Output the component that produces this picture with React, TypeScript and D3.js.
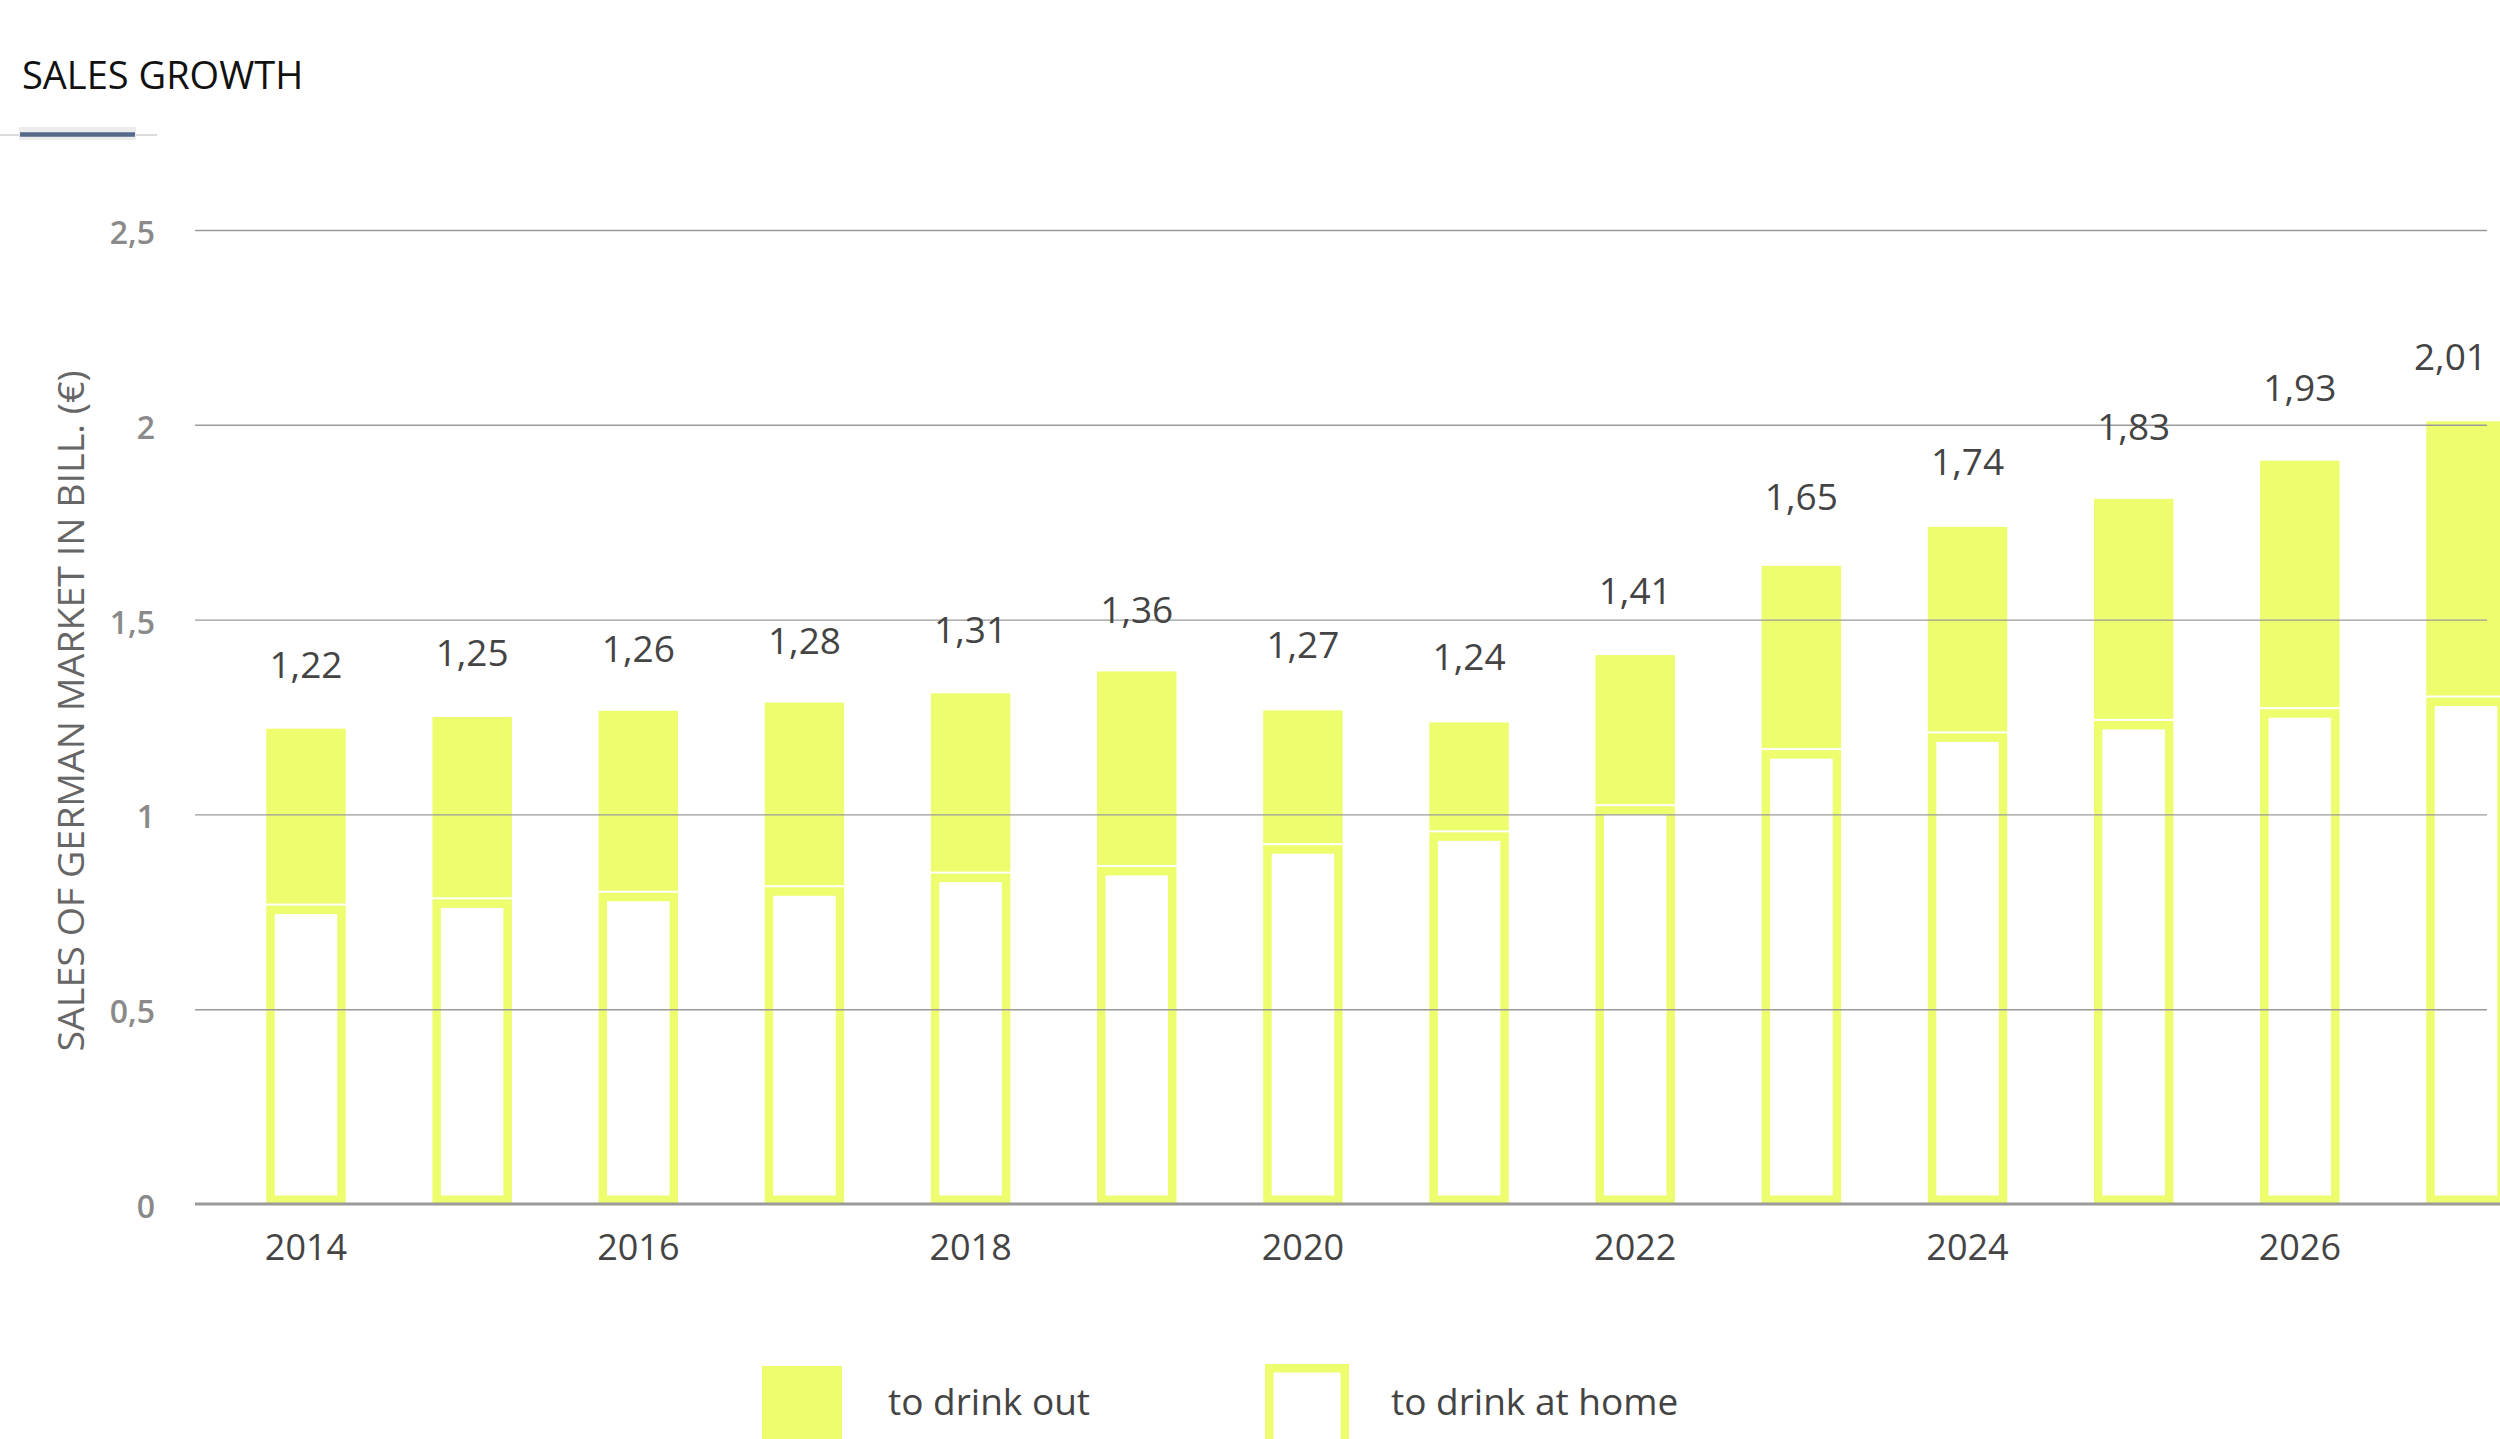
import { useEffect, useRef } from "react";
import {
  select,
  scaleBand,
  scaleLinear,
  axisLeft,
  axisBottom,
  formatLocale,
} from "d3";

// Data
const years = [
  2014, 2015, 2016, 2017, 2018, 2019, 2020, 2021, 2022, 2023, 2024, 2025, 2026,
  2027,
];
const totalLabels = [
  1.22, 1.25, 1.26, 1.28, 1.31, 1.36, 1.27, 1.24, 1.41, 1.65, 1.74, 1.83, 1.93,
  2.01,
];
const drinkAtHome = [
  0.766, 0.782, 0.799, 0.813, 0.848, 0.865, 0.921, 0.954, 1.021, 1.165, 1.208,
  1.24, 1.27, 1.3,
];
const drinkOut = [
  0.454, 0.468, 0.467, 0.474, 0.463, 0.502, 0.346, 0.282, 0.388, 0.473, 0.53,
  0.57, 0.638, 0.709,
];
const yTicks = [0, 0.5, 1, 1.5, 2, 2.5];
const xTickYears = [2014, 2016, 2018, 2020, 2022, 2024, 2026];
const legendLabels = ["to drink out", "to drink at home"];

const W = 2500;
const H = 1439;
const FONT = "'Open Sans', 'Noto Sans', sans-serif";
const YELLOW = "#eefd6e";
const GRID = "#9a9a9a";
const GRID_END = 2487;

const de = formatLocale({
  decimal: ",",
  thousands: ".",
  grouping: [3],
  currency: ["", " €"],
});

export default function App() {
  const svgRef = useRef<SVGSVGElement | null>(null);

  useEffect(() => {
    const svg = select(svgRef.current);

    // Scales
    const x = scaleBand<number>()
      .domain(years)
      .range([195, 2577])
      .paddingInner(0.5215)
      .paddingOuter(0.4288);
    const y = scaleLinear().domain([0, 2.5]).range([1204, 230]);
    const bw = x.bandwidth();
    const sw = 8.5; // outline width of the "at home" bars

    const rows = years.map((year, i) => ({
      year,
      home: drinkAtHome[i],
      out: drinkOut[i],
      label: totalLabels[i],
    }));

    // Outlined bars (to drink at home)
    svg
      .select(".bars-home")
      .selectAll("rect")
      .data(rows)
      .join("rect")
      .attr("x", (d) => x(d.year)! + sw / 2)
      .attr("y", (d) => y(d.home) + sw / 2)
      .attr("width", bw - sw)
      .attr("height", (d) => y(0) - y(d.home) - sw)
      .attr("fill", "#fff")
      .attr("stroke", YELLOW)
      .attr("stroke-width", sw);

    // Filled bars stacked on top (to drink out)
    svg
      .select(".bars-out")
      .selectAll("rect")
      .data(rows)
      .join("rect")
      .attr("x", (d) => x(d.year)!)
      .attr("y", (d) => y(d.home + d.out))
      .attr("width", bw)
      .attr("height", (d) => y(d.home) - y(d.home + d.out) - 2)
      .attr("fill", YELLOW);

    // Gridlines
    const grid = svg
      .select<SVGGElement>(".grid")
      .attr("transform", "translate(195,0)")
      .call(
        axisLeft(y)
          .tickValues(yTicks.filter((v) => v > 0))
          .tickSize(-(GRID_END - 195))
          .tickFormat(() => "")
      );
    grid.select(".domain").remove();
    grid.selectAll("line").attr("stroke", GRID).attr("stroke-width", 1.4);

    // Baseline
    svg
      .select(".baseline")
      .attr("x1", 195)
      .attr("x2", W)
      .attr("y1", y(0))
      .attr("y2", y(0))
      .attr("stroke", GRID)
      .attr("stroke-width", 3);

    // Y axis labels
    const fmtTick = de.format("~g");
    const yAxis = svg
      .select<SVGGElement>(".y-axis")
      .attr("transform", "translate(195,0)")
      .call(
        axisLeft(y)
          .tickValues(yTicks)
          .tickSize(0)
          .tickPadding(40)
          .tickFormat((d) => fmtTick(d as number))
      );
    yAxis.select(".domain").remove();
    yAxis
      .attr("font-family", FONT)
      .attr("font-size", 32)
      .selectAll("text")
      .attr("fill", "#8a8a8a")
      .attr("font-weight", 600)
      .attr("dy", "0.42em");

    // X axis labels
    const xAxis = svg
      .select<SVGGElement>(".x-axis")
      .attr("transform", `translate(0,${y(0)})`)
      .call(axisBottom(x).tickValues(xTickYears).tickSize(0).tickPadding(30));
    xAxis.select(".domain").remove();
    xAxis
      .attr("font-family", FONT)
      .attr("font-size", 36)
      .selectAll("text")
      .attr("fill", "#444");

    // Value labels (kept inside the plot on the right edge)
    const fmtVal = de.format(".2f");
    svg
      .select(".labels")
      .selectAll<SVGTextElement, (typeof rows)[number]>("text")
      .data(rows)
      .join("text")
      .attr("x", (d) => x(d.year)! + bw / 2)
      .attr("y", (d) => y(d.label) - 51)
      .attr("text-anchor", "middle")
      .attr("font-family", FONT)
      .attr("font-size", 37)
      .attr("fill", "#444")
      .text((d) => fmtVal(d.label))
      .each(function (d) {
        const half = this.getComputedTextLength() / 2;
        const cx = x(d.year)! + bw / 2;
        if (cx + half > GRID_END) select(this).attr("x", GRID_END - half);
      });

    // Legend
    const legendX = scaleBand<string>()
      .domain(legendLabels)
      .range([762, 1768])
      .paddingInner(0);
    const items = svg
      .select(".legend")
      .selectAll("g")
      .data(legendLabels)
      .join("g")
      .attr("transform", (d) => `translate(${legendX(d)!},1366)`);
    items
      .append("rect")
      .attr("x", (d, i) => (i === 0 ? 0 : sw / 2))
      .attr("y", (d, i) => (i === 0 ? 0 : sw / 2 - 2))
      .attr("width", (d, i) => (i === 0 ? 80 : 84 - sw))
      .attr("height", (d, i) => (i === 0 ? 80 : 84 - sw))
      .attr("fill", (d, i) => (i === 0 ? YELLOW : "#fff"))
      .attr("stroke", (d, i) => (i === 0 ? "none" : YELLOW))
      .attr("stroke-width", sw);
    items
      .append("text")
      .attr("x", 126)
      .attr("y", 49)
      .attr("font-family", FONT)
      .attr("font-size", 37)
      .attr("fill", "#444")
      .text((d) => d);
  }, []);

  return (
    <svg
      ref={svgRef}
      width={W}
      height={H}
      style={{ position: "absolute", left: 0, top: 0, background: "#fff", display: "block" }}
    >
      <rect width={W} height={H} fill="#fff" />
      <text x={22} y={89} fontFamily={FONT} fontSize={38} fill="#111">
        SALES GROWTH
      </text>
      <line x1={0} x2={157} y1={135} y2={135} stroke="#cfcfcf" strokeWidth={1.5} />
      <rect x={19} y={127} width={117} height={13} fill="#ececec" />
      <line x1={20} x2={135} y1={134.5} y2={134.5} stroke="#55698a" strokeWidth={4.5} />
      <text
        transform="translate(70,711) rotate(-90)"
        textAnchor="middle"
        dominantBaseline="central"
        fontFamily={FONT}
        fontSize={36}
        fill="#666"
        textLength={681}
        lengthAdjust="spacingAndGlyphs"
      >
        SALES OF GERMAN MARKET IN BILL. (€)
      </text>
      <g className="bars-home" />
      <g className="bars-out" />
      <g className="grid" />
      <line className="baseline" />
      <g className="y-axis" />
      <g className="x-axis" />
      <g className="labels" />
      <g className="legend" />
    </svg>
  );
}
